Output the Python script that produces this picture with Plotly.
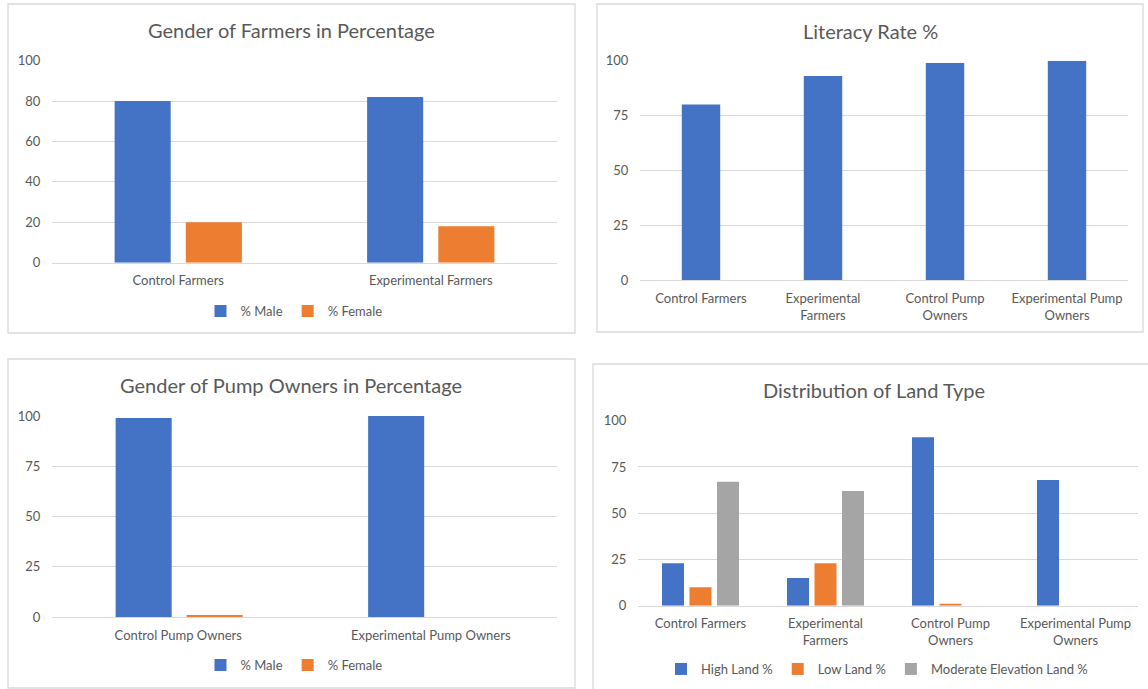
import plotly.graph_objects as go

W, H = 1148, 689

# ---------------- data ----------------
farmer_groups = ["Control Farmers", "Experimental Farmers"]
farmer_male = [80, 82]
farmer_female = [20, 18]

literacy_groups = ["Control Farmers", "Experimental Farmers", "Control Pump Owners", "Experimental Pump Owners"]
literacy_labels = ["Control Farmers", "Experimental<br>Farmers", "Control Pump<br>Owners", "Experimental Pump<br>Owners"]
literacy_rate = [80, 93, 99, 100]

pump_groups = ["Control Pump Owners", "Experimental Pump Owners"]
pump_male = [99, 100]
pump_female = [1, 0]

land_groups = literacy_groups
land_labels = literacy_labels
land_high = [23, 15, 91, 68]
land_low = [10, 23, 1, 0]
land_moderate = [67, 62, 0, 0]

BLUE, ORANGE, GREY = "#4472C4", "#ED7D31", "#A5A5A5"
TXT = "#595959"
GRID = "#D9D9D9"
FONT = "Lato"


def px_x(p):
    return p / W


def px_y(p):
    return 1 - p / H


fig = go.Figure()

# Panel 1
fig.add_trace(go.Bar(x=farmer_groups, y=farmer_male, name="% Male", marker_color=BLUE,
                     width=0.222, offset=-0.252, xaxis="x", yaxis="y", legend="legend"))
fig.add_trace(go.Bar(x=farmer_groups, y=farmer_female, name="% Female", marker_color=ORANGE,
                     width=0.222, offset=0.030, xaxis="x", yaxis="y", legend="legend"))
# Panel 2
fig.add_trace(go.Bar(x=literacy_groups, y=literacy_rate, name="Literacy Rate %", marker_color=BLUE,
                     width=0.315, offset=-0.1575, xaxis="x2", yaxis="y2", showlegend=False))
# Panel 3
fig.add_trace(go.Bar(x=pump_groups, y=pump_male, name="% Male", marker_color=BLUE,
                     width=0.222, offset=-0.248, xaxis="x3", yaxis="y3", legend="legend2"))
fig.add_trace(go.Bar(x=pump_groups, y=pump_female, name="% Female", marker_color=ORANGE,
                     width=0.222, offset=0.033, xaxis="x3", yaxis="y3", legend="legend2"))
# Panel 4
fig.add_trace(go.Bar(x=land_groups, y=land_high, name="High Land %", marker_color=BLUE,
                     width=0.176, offset=-0.308, xaxis="x4", yaxis="y4", legend="legend3"))
fig.add_trace(go.Bar(x=land_groups, y=land_low, name="Low Land %", marker_color=ORANGE,
                     width=0.176, offset=-0.088, xaxis="x4", yaxis="y4", legend="legend3"))
fig.add_trace(go.Bar(x=land_groups, y=land_moderate, name="Moderate Elevation Land %", marker_color=GREY,
                     width=0.176, offset=0.132, xaxis="x4", yaxis="y4", legend="legend3"))

fig.update_traces(marker_line_width=0)

tickfont = dict(family=FONT, size=13, color=TXT)


def xax(domain, anchor, ticktext=None, tickvals=None):
    d = dict(domain=domain, anchor=anchor, type="category", showgrid=False,
             showline=True, linecolor=GRID, linewidth=1, zeroline=False,
             ticks="outside", ticklen=6, tickcolor="rgba(0,0,0,0)",
             tickfont=tickfont, fixedrange=True, automargin=False)
    if ticktext is not None:
        d["tickvals"] = tickvals
        d["ticktext"] = ticktext
    return d


def yax(domain, anchor, dtick):
    return dict(domain=domain, anchor=anchor, range=[0, 100], dtick=dtick,
                showgrid=True, gridcolor=GRID, gridwidth=1, zeroline=False,
                showline=False, ticks="outside", ticklen=8, tickcolor="rgba(0,0,0,0)",
                tickfont=tickfont, fixedrange=True, automargin=False)


leg_common = dict(orientation="h", xanchor="center", yanchor="middle",
                  font=dict(family=FONT, size=13, color=TXT), itemwidth=30,
                  bgcolor="rgba(0,0,0,0)", tracegroupgap=0)

fig.update_layout(
    width=W, height=H,
    margin=dict(l=0, r=0, t=0, b=0, pad=0, autoexpand=False),
    paper_bgcolor="white", plot_bgcolor="white",
    font=dict(family=FONT, color=TXT),
    barmode="overlay",
    xaxis=xax([px_x(52), px_x(557)], "y"),
    yaxis=yax([px_y(262.7), px_y(60.7)], "x", 20),
    xaxis2=xax([px_x(640), px_x(1128)], "y2", literacy_labels, literacy_groups),
    yaxis2=yax([px_y(280), px_y(60.7)], "x2", 25),
    xaxis3=xax([px_x(52), px_x(557)], "y3"),
    yaxis3=yax([px_y(617), px_y(416)], "x3", 25),
    xaxis4=xax([px_x(638), px_x(1138)], "y4", land_labels, land_groups),
    yaxis4=yax([px_y(605.7), px_y(420.7)], "x4", 25),
    legend=dict(x=px_x(294), y=px_y(311), **leg_common),
    legend2=dict(x=px_x(294), y=px_y(665), **leg_common),
    legend3=dict(x=px_x(877), y=px_y(669), **leg_common),
)

titles = [
    ("Gender of Farmers in Percentage", 291, 30),
    ("Literacy Rate %", 870, 31),
    ("Gender of Pump Owners in Percentage", 291, 385),
    ("Distribution of Land Type", 874, 390),
]
for text, cx, cy in titles:
    fig.add_annotation(text=text, x=px_x(cx), y=px_y(cy), xref="paper", yref="paper",
                       xanchor="center", yanchor="middle", showarrow=False,
                       font=dict(family=FONT, size=20, color=TXT))

borders = [(8, 4, 575, 333), (597, 4, 1143, 332), (8, 359, 575, 688), (593, 364, 1160, 700)]
for x0, y0, x1, y1 in borders:
    fig.add_shape(type="rect", xref="paper", yref="paper",
                  x0=px_x(x0), x1=px_x(x1), y0=px_y(y1), y1=px_y(y0),
                  line=dict(color=GRID, width=1.3), fillcolor="rgba(0,0,0,0)", layer="below")

fig.write_html("out.html")
